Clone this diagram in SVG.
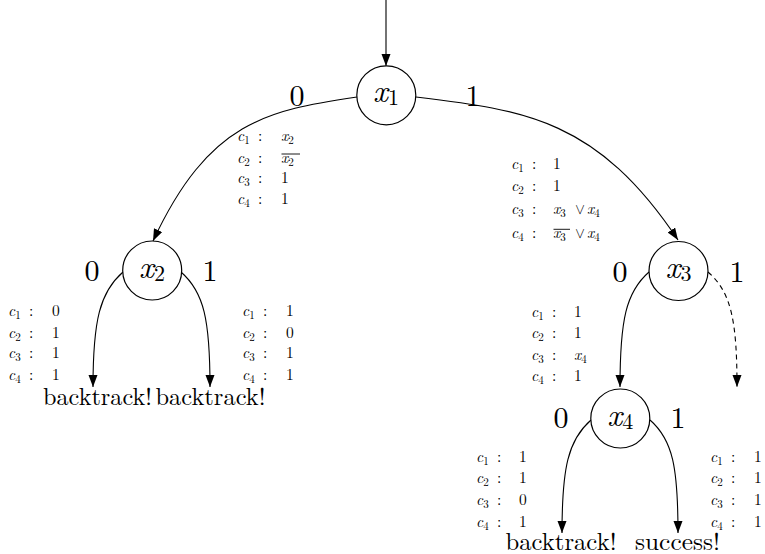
<svg xmlns="http://www.w3.org/2000/svg" width="765" height="554" viewBox="0 0 765 554">
<style>
text { font-family: "Latin Modern Roman", "Liberation Serif", serif; fill: #000; }
.node circle { fill: #fff; stroke: #000; stroke-width: 1.2; }
.nl { font-size: 32px; text-anchor: middle; }
.it { font-style: italic; }
.ns { font-size: 22px; font-style: normal; }
.el { font-size: 30px; text-anchor: middle; }
.edge { fill: none; stroke: #000; stroke-width: 1.1; marker-end: url(#arr); }
.dash { stroke-dasharray: 5 4; }
.t { font-size: 15.5px; }
.s { font-size: 11px; font-style: normal; }
.or { font-family: "Latin Modern Math", "DejaVu Serif", serif; font-size: 15px; }
.term { font-size: 24px; text-anchor: middle; }
.ov { stroke: #000; stroke-width: 0.9; }
</style>
<defs>
<marker id="arr" markerUnits="userSpaceOnUse" markerWidth="13" markerHeight="10" refX="12" refY="4.5" orient="auto">
<path d="M0,0 L12,4.5 L0,9 Z" fill="#000"/>
</marker>
</defs>

<g id="connectors">
<path class="edge" d="M386,0 L386,66"/>
<path class="edge" d="M357,97 C267,110.5 209,121 153,241"/>
<path class="edge" d="M416,97 C526,110 598,120 678,240"/>
<path class="edge" d="M123,272 C100,292 93,320 93,387"/>
<path class="edge" d="M181,272 C204,292 210,320 210,387"/>
<path class="edge" d="M649,272 C626,292 620,320 620,387"/>
<path class="edge dash" d="M708,272 C731,292 737,320 737,387"/>
<path class="edge" d="M591,420 C568,440 562,468 562,533"/>
<path class="edge" d="M650,420 C673,440 678,468 678,533"/>
</g>

<g id="edge-labels">
<text class="el" x="297" y="105.5">0</text>
<text class="el" x="473" y="105.5">1</text>
<text class="el" x="92" y="281">0</text>
<text class="el" x="210" y="281">1</text>
<text class="el" x="620" y="281.5">0</text>
<text class="el" x="737" y="281.5">1</text>
<text class="el" x="561" y="428">0</text>
<text class="el" x="678" y="428">1</text>
</g>

<g id="x1" class="node">
<circle cx="386.3" cy="95.3" r="29.5"/>
<text class="nl" x="386" y="102"><tspan class="it">x</tspan><tspan class="ns" dy="3">1</tspan></text>
</g>
<g id="x2" class="node">
<circle cx="152.2" cy="270.5" r="29.5"/>
<text class="nl" x="152" y="277.5"><tspan class="it">x</tspan><tspan class="ns" dy="3">2</tspan></text>
</g>
<g id="x3" class="node">
<circle cx="678.5" cy="271" r="29.5"/>
<text class="nl" x="678.5" y="278"><tspan class="it">x</tspan><tspan class="ns" dy="3">3</tspan></text>
</g>
<g id="x4" class="node">
<circle cx="620.3" cy="418.5" r="29.5"/>
<text class="nl" x="620.3" y="425.5"><tspan class="it">x</tspan><tspan class="ns" dy="3">4</tspan></text>
</g>

<g id="bt1"><text class="term" x="97.5" y="405" textLength="109" lengthAdjust="spacingAndGlyphs">backtrack!</text></g>
<g id="bt2"><text class="term" x="210.5" y="405" textLength="110" lengthAdjust="spacingAndGlyphs">backtrack!</text></g>
<g id="bt3"><text class="term" x="561" y="549.5" textLength="111" lengthAdjust="spacingAndGlyphs">backtrack!</text></g>
<g id="succ"><text class="term" x="677.5" y="549.5" textLength="85" lengthAdjust="spacingAndGlyphs">success!</text></g>

<g id="tblA">
<text class="t" x="237" y="140.7"><tspan class="it">c</tspan><tspan class="s" dy="3">1</tspan><tspan x="258" dy="-3">:</tspan></text>
<text class="t" x="281" y="140.7"><tspan class="it">x</tspan><tspan class="s" dy="3">2</tspan></text>
<text class="t" x="237" y="162.7"><tspan class="it">c</tspan><tspan class="s" dy="3">2</tspan><tspan x="258" dy="-3">:</tspan></text>
<text class="t" x="281" y="162.7"><tspan class="it">x</tspan><tspan class="s" dy="3">2</tspan></text>
<line class="ov" x1="281.5" y1="154" x2="300" y2="154"/>
<text class="t" x="237" y="183.3"><tspan class="it">c</tspan><tspan class="s" dy="3">3</tspan><tspan x="258" dy="-3">:</tspan></text>
<text class="t" x="281" y="183.3">1</text>
<text class="t" x="237" y="204"><tspan class="it">c</tspan><tspan class="s" dy="3">4</tspan><tspan x="258" dy="-3">:</tspan></text>
<text class="t" x="281" y="204">1</text>
</g>

<g id="tblB">
<text class="t" x="511" y="169"><tspan class="it">c</tspan><tspan class="s" dy="3">1</tspan><tspan x="532" dy="-3">:</tspan></text>
<text class="t" x="553" y="169">1</text>
<text class="t" x="511" y="191"><tspan class="it">c</tspan><tspan class="s" dy="3">2</tspan><tspan x="532" dy="-3">:</tspan></text>
<text class="t" x="553" y="191">1</text>
<text class="t" x="511" y="214"><tspan class="it">c</tspan><tspan class="s" dy="3">3</tspan><tspan x="532" dy="-3">:</tspan></text>
<text class="t" x="553" y="214"><tspan class="it">x</tspan><tspan class="s" dy="3">3</tspan><tspan class="or" x="575" dy="-3">∨</tspan><tspan class="it" x="587">x</tspan><tspan class="s" dy="3">4</tspan></text>
<text class="t" x="511" y="238"><tspan class="it">c</tspan><tspan class="s" dy="3">4</tspan><tspan x="532" dy="-3">:</tspan></text>
<text class="t" x="553" y="238"><tspan class="it">x</tspan><tspan class="s" dy="3">3</tspan><tspan class="or" x="575" dy="-3">∨</tspan><tspan class="it" x="587">x</tspan><tspan class="s" dy="3">4</tspan></text>
<line class="ov" x1="553.5" y1="229.3" x2="570" y2="229.3"/>
</g>

<g id="tblC">
<text class="t" x="531" y="316.7"><tspan class="it">c</tspan><tspan class="s" dy="3">1</tspan><tspan x="552" dy="-3">:</tspan></text>
<text class="t" x="574" y="316.7">1</text>
<text class="t" x="531" y="338.3"><tspan class="it">c</tspan><tspan class="s" dy="3">2</tspan><tspan x="552" dy="-3">:</tspan></text>
<text class="t" x="574" y="338.3">1</text>
<text class="t" x="531" y="360"><tspan class="it">c</tspan><tspan class="s" dy="3">3</tspan><tspan x="552" dy="-3">:</tspan></text>
<text class="t" x="574" y="360"><tspan class="it">x</tspan><tspan class="s" dy="3">4</tspan></text>
<text class="t" x="531" y="381"><tspan class="it">c</tspan><tspan class="s" dy="3">4</tspan><tspan x="552" dy="-3">:</tspan></text>
<text class="t" x="574" y="381">1</text>
</g>

<g id="tblL">
<text class="t" x="8" y="316"><tspan class="it">c</tspan><tspan class="s" dy="3">1</tspan><tspan x="29" dy="-3">:</tspan></text>
<text class="t" x="52" y="316">0</text>
<text class="t" x="8" y="337.7"><tspan class="it">c</tspan><tspan class="s" dy="3">2</tspan><tspan x="29" dy="-3">:</tspan></text>
<text class="t" x="52" y="337.7">1</text>
<text class="t" x="8" y="358.3"><tspan class="it">c</tspan><tspan class="s" dy="3">3</tspan><tspan x="29" dy="-3">:</tspan></text>
<text class="t" x="52" y="358.3">1</text>
<text class="t" x="8" y="380"><tspan class="it">c</tspan><tspan class="s" dy="3">4</tspan><tspan x="29" dy="-3">:</tspan></text>
<text class="t" x="52" y="380">1</text>
</g>

<g id="tblR">
<text class="t" x="242" y="316"><tspan class="it">c</tspan><tspan class="s" dy="3">1</tspan><tspan x="263" dy="-3">:</tspan></text>
<text class="t" x="286" y="316">1</text>
<text class="t" x="242" y="337.7"><tspan class="it">c</tspan><tspan class="s" dy="3">2</tspan><tspan x="263" dy="-3">:</tspan></text>
<text class="t" x="286" y="337.7">0</text>
<text class="t" x="242" y="358.3"><tspan class="it">c</tspan><tspan class="s" dy="3">3</tspan><tspan x="263" dy="-3">:</tspan></text>
<text class="t" x="286" y="358.3">1</text>
<text class="t" x="242" y="380"><tspan class="it">c</tspan><tspan class="s" dy="3">4</tspan><tspan x="263" dy="-3">:</tspan></text>
<text class="t" x="286" y="380">1</text>
</g>

<g id="tblD">
<text class="t" x="476" y="461.7"><tspan class="it">c</tspan><tspan class="s" dy="3">1</tspan><tspan x="497" dy="-3">:</tspan></text>
<text class="t" x="519" y="461.7">1</text>
<text class="t" x="476" y="483.3"><tspan class="it">c</tspan><tspan class="s" dy="3">2</tspan><tspan x="497" dy="-3">:</tspan></text>
<text class="t" x="519" y="483.3">1</text>
<text class="t" x="476" y="505"><tspan class="it">c</tspan><tspan class="s" dy="3">3</tspan><tspan x="497" dy="-3">:</tspan></text>
<text class="t" x="519" y="505">0</text>
<text class="t" x="476" y="526.7"><tspan class="it">c</tspan><tspan class="s" dy="3">4</tspan><tspan x="497" dy="-3">:</tspan></text>
<text class="t" x="519" y="526.7">1</text>
</g>

<g id="tblE">
<text class="t" x="710" y="461.7"><tspan class="it">c</tspan><tspan class="s" dy="3">1</tspan><tspan x="731" dy="-3">:</tspan></text>
<text class="t" x="754" y="461.7">1</text>
<text class="t" x="710" y="483.3"><tspan class="it">c</tspan><tspan class="s" dy="3">2</tspan><tspan x="731" dy="-3">:</tspan></text>
<text class="t" x="754" y="483.3">1</text>
<text class="t" x="710" y="505"><tspan class="it">c</tspan><tspan class="s" dy="3">3</tspan><tspan x="731" dy="-3">:</tspan></text>
<text class="t" x="754" y="505">1</text>
<text class="t" x="710" y="526.7"><tspan class="it">c</tspan><tspan class="s" dy="3">4</tspan><tspan x="731" dy="-3">:</tspan></text>
<text class="t" x="754" y="526.7">1</text>
</g>
</svg>
